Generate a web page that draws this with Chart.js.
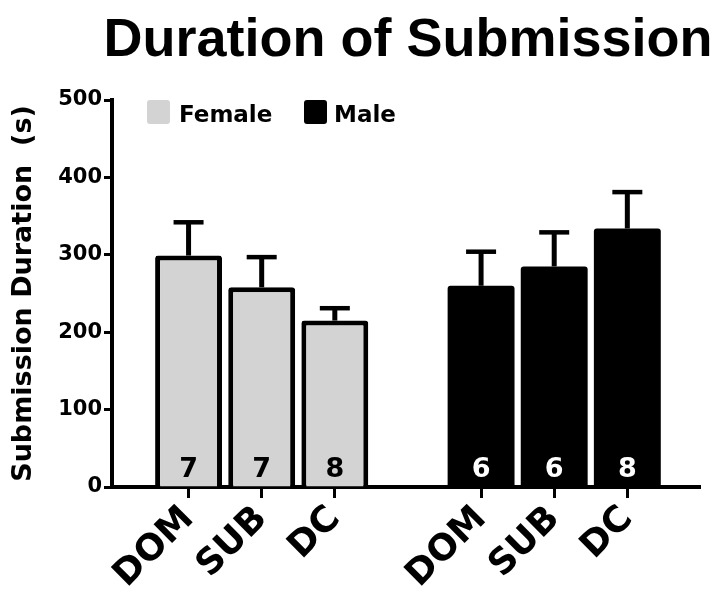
<!DOCTYPE html>
<html><head><meta charset="utf-8">
<script src="https://cdn.jsdelivr.net/npm/chart.js@4/dist/chart.umd.min.js"></script>
<style>html,body{margin:0;padding:0;background:#fff}#wrap{width:715px;height:598px}</style>
</head><body><div id="wrap"><canvas id="c" width="715" height="598"></canvas></div>
<script>
const chartTitle = 'Duration of Submission';
const yTitle = 'Submission Duration  (s)';
const groups = ['Female', 'Male'];
const categories = ['DOM', 'SUB', 'DC'];
const femaleMeans = [299, 258, 215];
const femaleSEM = [43, 39, 16];
const femaleN = [7, 7, 8];
const maleMeans = [260, 285, 334];
const maleSEM = [44, 44, 47];
const maleN = [6, 6, 8];
const yTicks = [0, 100, 200, 300, 400, 500];

const FONT = "'Liberation Sans', Arial, sans-serif";
const WFONT = "'DejaVu Sans', Verdana, sans-serif";
Chart.defaults.font.family = WFONT;
Chart.defaults.color = '#000';

const xLabels = [...categories, '', ...categories];
const femalePts = femaleMeans.map((v, i) => ({x: i, y: v}));
const malePts = maleMeans.map((v, i) => ({x: i + categories.length + 1, y: v}));

const annot = {
  id: 'annot',
  afterDatasetsDraw(chart) {
    const {ctx, scales: {y}} = chart;
    chart.data.datasets.forEach((ds, di) => {
      const meta = chart.getDatasetMeta(di);
      meta.data.forEach((bar, i) => {
        const v = ds.data[i].y, e = ds.sem[i];
        const px = bar.x, top = y.getPixelForValue(v), ep = y.getPixelForValue(v + e);
        ctx.save();
        ctx.strokeStyle = '#000';
        ctx.lineWidth = 5;
        ctx.beginPath(); ctx.moveTo(px, top); ctx.lineTo(px, ep); ctx.stroke();
        ctx.lineWidth = 4.5;
        ctx.beginPath(); ctx.moveTo(px - 15, ep); ctx.lineTo(px + 15, ep); ctx.stroke();
        ctx.fillStyle = ds.nColor;
        ctx.font = 'bold 27px ' + WFONT;
        ctx.textAlign = 'center';
        ctx.textBaseline = 'alphabetic';
        ctx.fillText(String(ds.n[i]), px, y.getPixelForValue(0) - 10);
        ctx.restore();
      });
    });
  },
  afterDraw(chart) {
    const ctx = chart.ctx;
    ctx.save();
    ctx.fillStyle = '#000';
    ctx.font = 'bold 54px ' + FONT;
    ctx.textAlign = 'center';
    ctx.textBaseline = 'alphabetic';
    ctx.fillText(chartTitle, 408, 56);
    // legend
    const boxX = [147, 304], textX = [179, 334];
    chart.data.datasets.forEach((ds, i) => {
      ctx.fillStyle = ds.backgroundColor;
      ctx.beginPath();
      ctx.roundRect(boxX[i], 100, 23, 24, 3);
      ctx.fill();
      ctx.fillStyle = '#000';
      ctx.font = 'bold 23px ' + WFONT;
      ctx.textAlign = 'left';
      ctx.fillText(ds.label, textX[i], 122);
    });
    ctx.restore();
  }
};

new Chart(document.getElementById('c'), {
  type: 'bar',
  data: {
    datasets: [
      {label: groups[0], data: femalePts, backgroundColor: '#d3d3d3', borderColor: '#000', borderWidth: 5, borderRadius: 3, grouped: false, sem: femaleSEM, n: femaleN, nColor: '#000'},
      {label: groups[1], data: malePts, backgroundColor: '#000', borderColor: '#000', borderWidth: 0, borderRadius: 3, grouped: false, sem: maleSEM, n: maleN, nColor: '#fff'}
    ]
  },
  options: {
    responsive: false,
    animation: false,
    layout: {padding: {top: 100, right: 16, left: 0, bottom: 0}},
    categoryPercentage: 1,
    barPercentage: 0.915,
    plugins: {legend: {display: false}, title: {display: false}, tooltip: {enabled: false}},
    scales: {
      x: {
        type: 'linear', min: -1.047, max: 6.98, offset: false,
        grid: {display: true, offset: false, drawOnChartArea: false, color: '#000', tickLength: 11, tickWidth: 3, lineWidth: 3},
        border: {display: true, color: '#000', width: 4},
        ticks: {stepSize: 1, includeBounds: false, autoSkip: false, minRotation: 45, maxRotation: 45,
          font: {size: 36, weight: 'bold'}, color: '#000', padding: 0,
          callback: (v) => xLabels[v] ?? ''},
        afterBuildTicks: s => { s.ticks = s.ticks.filter(t => Number.isInteger(t.value) && xLabels[t.value]); },
        afterFit: s => { s.height = 111; }
      },
      y: {
        min: 0, max: 500,
        afterBuildTicks: s => { s.ticks = yTicks.map(v => ({value: v})); },
        ticks: {font: {size: 21, weight: 'bold'}, color: '#000', padding: 2},
        grid: {drawOnChartArea: false, color: '#000', tickLength: 8, tickWidth: 3},
        border: {color: '#000', width: 4},
        title: {display: true, text: yTitle, font: {size: 27, weight: 'bold'}, color: '#000', padding: {top: 8, bottom: 0}},
        afterFit: s => { s.width = 112; }
      }
    }
  },
  plugins: [annot]
});
</script></body></html>
